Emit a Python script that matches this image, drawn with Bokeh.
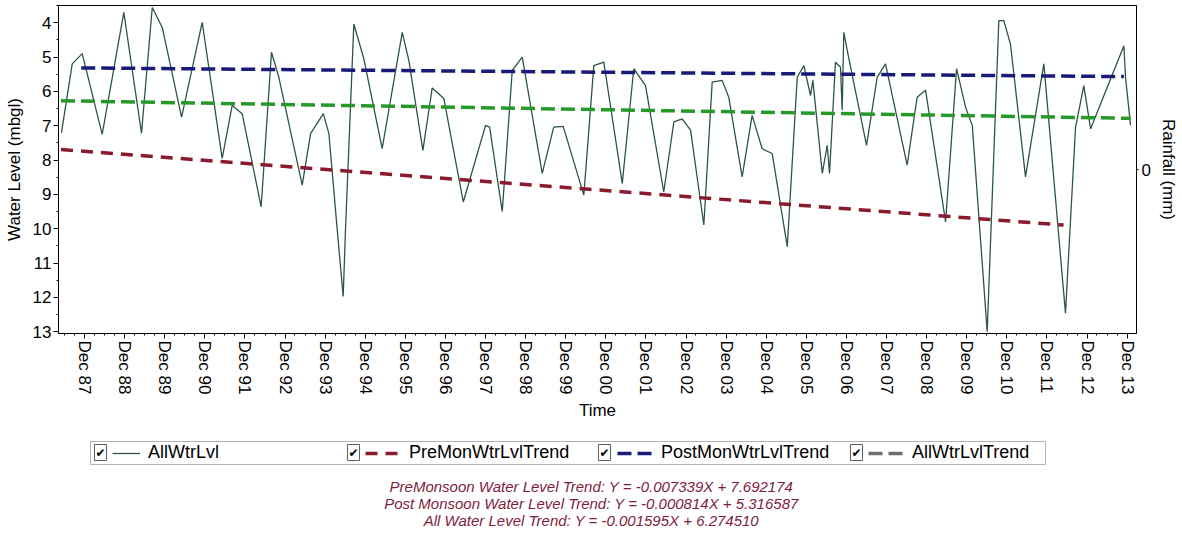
import pandas as pd
from bokeh.plotting import figure
from bokeh.layouts import column
from bokeh.models import (Range1d, LinearAxis, FixedTicker, DatetimeTickFormatter,
                          Legend, LegendItem, Label, BoxAnnotation)
from bokeh.embed import file_html
from bokeh.resources import INLINE

# Observed water level, metres below ground level
obs_dates = [
    "1987-05-05", "1987-08-11", "1987-11-10", "1988-05-10", "1988-11-23",
    "1989-05-03", "1989-08-09", "1989-11-08", "1990-05-03", "1990-11-07",
    "1991-05-08", "1991-08-07", "1991-11-06", "1992-04-27", "1992-07-30", "1992-10-05",
    "1993-05-06", "1993-07-21", "1993-11-14", "1994-01-04", "1994-03-21", "1994-05-14",
    "1994-06-04", "1994-08-19", "1994-11-18",
    "1995-05-04", "1995-11-03", "1996-01-02", "1996-05-09", "1996-08-02", "1996-11-16",
    "1997-05-12", "1997-12-01", "1998-01-07", "1998-05-02", "1998-08-01", "1998-10-31",
    "1999-05-01", "1999-08-14", "1999-11-08", "2000-05-14", "2000-08-13", "2000-11-12",
    "2001-04-29", "2001-08-12", "2001-11-27", "2002-05-12", "2002-08-12", "2002-10-27",
    "2003-01-11", "2003-05-12", "2003-07-27", "2003-10-26", "2003-12-25",
    "2004-04-25", "2004-07-25", "2004-10-24", "2005-01-24", "2005-06-10", "2005-09-09", "2005-11-08",
    "2006-01-08", "2006-01-29", "2006-04-25", "2006-06-09", "2006-06-30", "2006-08-23",
    "2006-10-08", "2006-10-23", "2006-11-07", "2006-12-23",
    "2007-06-02", "2007-09-07", "2007-11-22", "2008-06-06", "2008-09-05", "2008-11-21",
    "2009-05-22", "2009-08-30", "2009-11-20", "2010-01-20", "2010-06-05", "2010-09-19", "2010-11-03",
    "2011-01-03", "2011-05-20", "2011-11-03", "2012-05-18", "2012-08-18", "2012-11-01",
    "2013-01-02", "2013-11-01", "2013-11-16", "2014-01-01",
]
obs_level = [
    7.20, 5.20, 4.90, 7.25, 3.70,
    7.22, 3.56, 4.14, 6.75, 3.99,
    7.95, 6.41, 6.65, 9.36, 4.86, 5.59,
    8.73, 7.23, 6.65, 7.23, 10.04, 11.97,
    10.04, 4.04, 5.05,
    7.67, 4.28, 5.10, 7.72, 5.90, 6.21,
    9.22, 6.99, 7.04, 9.50, 5.39, 5.00,
    8.39, 7.04, 7.02, 9.02, 5.25, 5.15,
    8.68, 5.34, 5.83, 8.93, 6.89, 6.80,
    7.13, 9.89, 5.73, 5.68, 6.17,
    8.49, 6.70, 7.67, 7.81, 10.52, 5.59, 5.25,
    6.12, 5.68, 8.39, 7.57, 8.39, 5.15,
    5.30, 6.55, 4.28, 5.05,
    7.57, 5.59, 5.20, 8.15, 6.17, 5.97,
    9.80, 5.34, 6.46, 6.99, 13.00, 3.94, 3.94,
    4.62, 8.49, 5.20, 12.46, 7.04, 5.83,
    7.09, 4.67, 5.59, 6.99,
]

# Fitted trends: Y = slope * X + intercept, X in months from the start of each fit
pre_slope, pre_icpt = -0.007339, 7.692174
post_slope, post_icpt = -0.000814, 5.316587
all_slope, all_icpt = -0.001595, 6.274510
pre_span = ["1987-05-01", "2012-05-01"]
post_span = ["1987-11-01", "2013-11-01"]
all_span = ["1987-05-01", "2014-01-01"]

series_names = ["AllWtrLvl", "PreMonWtrLvlTrend", "PostMonWtrLvlTrend", "AllWtrLvlTrend"]
tick_years = list(range(1987, 2014))
level_ticks = list(range(4, 14))

FONT = "Liberation Sans"
OBS_STYLE = dict(line_color="#2c5642", line_width=1.3)
PRE_STYLE = dict(line_color="#8a1a2e", line_width=3.5, line_dash="12 8")
POST_STYLE = dict(line_color="#1a1a78", line_width=3.5, line_dash="14 6")
ALL_STYLE = dict(line_color="#26992a", line_width=3.5, line_dash="14 6")
ALL_KEY_STYLE = dict(line_color="#707070", line_width=3.5, line_dash="14 6")

LEFT, RIGHT = 58, 46   # side borders shared by both panels so their frames line up


def trend(span, slope, icpt):
    d = pd.to_datetime(span)
    months = (d - d[0]).days / 30.4375
    # the fit is on water level (height), so depth grows by -slope per month
    return d, [icpt - slope * m for m in months]


# ---------------------------------------------------------------- main chart
x = pd.to_datetime(obs_dates)

p = figure(width=1182, height=425, x_axis_type="datetime",
           x_range=Range1d(pd.Timestamp("1987-04-08"), pd.Timestamp("2014-02-24")),
           y_range=Range1d(13.05, 3.5),
           output_backend="svg", toolbar_location=None,
           min_border_left=LEFT, min_border_right=RIGHT, min_border_top=5, min_border_bottom=92)
p.background_fill_color = "white"
p.border_fill_color = "white"
p.outline_line_color = "black"
p.outline_line_width = 1
p.xgrid.visible = False
p.ygrid.visible = False

p.line(x, obs_level, **OBS_STYLE)
d, v = trend(pre_span, pre_slope, pre_icpt)
p.line(d, v, **PRE_STYLE)
d, v = trend(post_span, post_slope, post_icpt)
p.line(d, v, **POST_STYLE)
d, v = trend(all_span, all_slope, all_icpt)
p.line(d, v, **ALL_STYLE)

# x axis: December ticks, quarterly minor ticks
xa = p.xaxis[0]
xa.ticker = FixedTicker(
    ticks=[pd.Timestamp(f"{yr}-12-01").value // 10**6 for yr in tick_years],
    minor_ticks=[pd.Timestamp(f"{yr}-{m:02d}-01").value // 10**6
                 for yr in range(1987, 2015) for m in (3, 6, 9, 12)])
xa.formatter = DatetimeTickFormatter(years="%b %y", months="%b %y", days="%b %y",
                                     hours="%b %y", minutes="%b %y")
xa.major_label_orientation = "vertical"
xa.axis_label = "Time"

ya = p.yaxis[0]
ya.ticker = FixedTicker(ticks=level_ticks,
                        minor_ticks=[t + 0.5 for t in range(3, 13)])
ya.axis_label = "Water Level (mbgl)"

p.extra_y_ranges = {"rain": Range1d(-1, 1)}
ra = LinearAxis(y_range_name="rain", ticker=FixedTicker(ticks=[0]),
                axis_label="Rainfall (mm)")
p.add_layout(ra, "right")

for ax in (xa, ya, ra):
    ax.major_label_text_font = FONT
    ax.major_label_text_font_size = "17px"
    ax.major_label_text_color = "black"
    ax.axis_label_text_font = FONT
    ax.axis_label_text_font_size = "17px"
    ax.axis_label_text_font_style = "normal"
    ax.axis_label_text_color = "black"
    ax.axis_line_color = "black"
    ax.major_tick_line_color = "black"
    ax.minor_tick_line_color = "black"
    ax.major_tick_in = 0
    ax.minor_tick_in = 0
xa.major_tick_out = 5
xa.minor_tick_out = 2
xa.major_label_standoff = 2
xa.axis_label_standoff = 4
ya.major_tick_out = 5
ya.minor_tick_out = 2
ya.major_label_standoff = 2
ya.axis_label_standoff = 6
ra.major_tick_out = 2
ra.minor_tick_out = 0
ra.major_label_standoff = 3
ra.axis_label_standoff = 5

# ---------------------------------------------------------------- legend strip
q = figure(width=1182, height=110, x_range=Range1d(0, 1), y_range=Range1d(0, 1),
           output_backend="svg", toolbar_location=None,
           x_axis_location=None, y_axis_location=None,
           min_border_left=LEFT, min_border_right=RIGHT, min_border_top=0, min_border_bottom=0)
q.outline_line_color = None
q.background_fill_color = "white"
q.border_fill_color = "white"
q.xgrid.visible = False
q.ygrid.visible = False

# legend keys share the styles of the chart lines (the overall trend key is grey);
# they carry a single empty point so only their legend swatch is drawn
nan = float("nan")
keys = [q.line(x=[nan], y=[nan], **OBS_STYLE),
        q.line(x=[nan], y=[nan], **PRE_STYLE),
        q.line(x=[nan], y=[nan], **POST_STYLE),
        q.line(x=[nan], y=[nan], **ALL_KEY_STYLE)]

# frame round the legend row (screen offsets from the strip's frame corner)
q.add_layout(BoxAnnotation(left=32, right=987, bottom=71, top=94,
                           left_units="screen", right_units="screen",
                           bottom_units="screen", top_units="screen",
                           fill_alpha=0, line_color="black", line_width=1))

legend_style = dict(orientation="horizontal", padding=0, margin=0, spacing=0,
                    glyph_height=20, label_height=20, label_standoff=8,
                    label_text_font=FONT, label_text_font_size="18px",
                    label_text_color="black", border_line_color=None,
                    background_fill_alpha=0)
# (tick box x, key x, key width) for each entry
slots = [(42, 54, 28), (295, 307, 36), (546, 559, 36), (798, 810, 36)]
for name, key, (bx, lx, gw) in zip(series_names, keys, slots):
    q.add_layout(Label(x=bx, y=83, x_units="screen", y_units="screen",
                       text="\u2714", text_font="DejaVu Sans",
                       text_font_size="12px", text_color="black",
                       text_align="center", text_baseline="middle",
                       background_fill_color="white",
                       border_line_color="#5e5e5e", border_line_width=1, padding=1))
    q.add_layout(Legend(items=[LegendItem(label=name, renderers=[key])],
                        location=(lx, 72), glyph_width=gw, **legend_style))

equations = [
    f"PreMonsoon Water Level Trend: Y = {pre_slope:.6f}X + {pre_icpt:.6f}",
    f"Post Monsoon Water Level Trend: Y = {post_slope:.6f}X + {post_icpt:.6f}",
    f"All Water Level Trend: Y = {all_slope:.6f}X + {all_icpt:.6f}",
]
for k, eq in enumerate(equations):
    q.add_layout(Label(x=533, y=49 - 17 * k, x_units="screen", y_units="screen",
                       text=eq, text_font=FONT, text_font_size="15px",
                       text_font_style="italic", text_color="#801c3c",
                       text_align="center", text_baseline="middle"))

layout = column(p, q, spacing=0)
open("out.html", "w").write(file_html(layout, INLINE))
